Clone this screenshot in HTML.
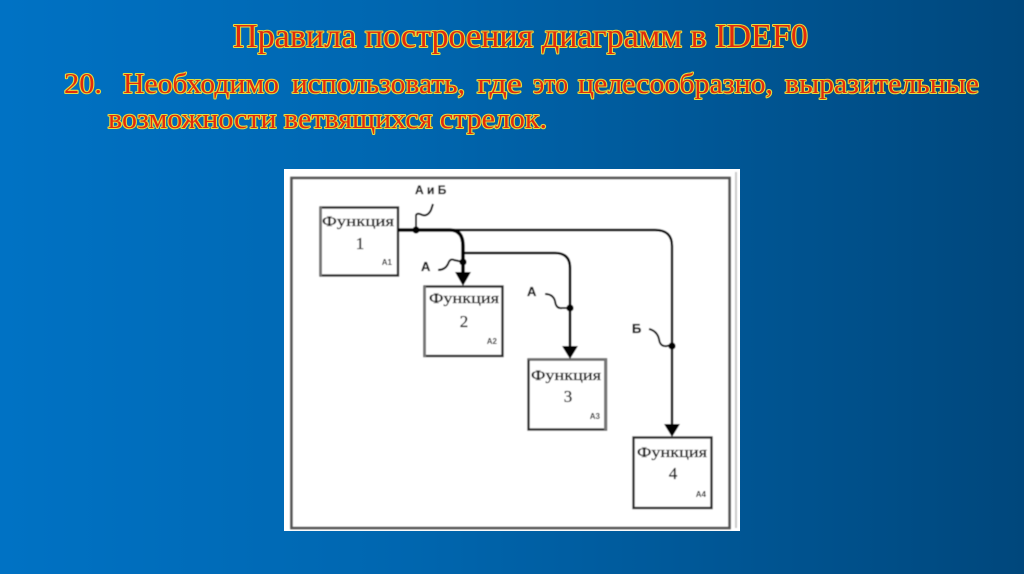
<!DOCTYPE html>
<html lang="ru">
<head>
<meta charset="utf-8">
<style>
html,body{margin:0;padding:0;width:1024px;height:574px;overflow:hidden;background:#0063ab}
svg{display:block}
.h{font-family:"Liberation Serif",serif;fill:#e22c08;stroke:#e4de3c;stroke-width:2.1px;paint-order:stroke fill;stroke-linejoin:round}
.d{font-family:"Liberation Serif",serif;fill:#1c1c1c;stroke:#1c1c1c;stroke-width:.35px;font-size:15px;text-anchor:middle}
.s{font-family:"Liberation Sans",sans-serif;fill:#222;font-size:8px;font-weight:bold;text-anchor:end}
.l{font-family:"Liberation Sans",sans-serif;fill:#1c1c1c;stroke:#1c1c1c;stroke-width:.3px;font-size:13px;font-weight:bold}
</style>
</head>
<body>
<svg width="1024" height="574" viewBox="0 0 1024 574" xmlns="http://www.w3.org/2000/svg">
<defs>
<linearGradient id="bg" x1="0" y1="0" x2="1" y2="0">
<stop offset="0" stop-color="#0072c4"/>
<stop offset=".4" stop-color="#0066af"/>
<stop offset="1" stop-color="#00477c"/>
</linearGradient>
<filter id="b" x="-5%" y="-5%" width="110%" height="110%"><feGaussianBlur stdDeviation=".5"/></filter>
<filter id="t" x="-2%" y="-10%" width="104%" height="120%"><feGaussianBlur stdDeviation=".25"/></filter>
</defs>
<rect width="1024" height="574" fill="url(#bg)"/>

<g filter="url(#t)">
<text class="h" x="233" y="47" font-size="33.5" textLength="575" lengthAdjust="spacingAndGlyphs">Правила построения диаграмм в IDEF0</text>
<text class="h" x="64" y="93" textLength="38" lengthAdjust="spacingAndGlyphs" font-size="28.5">20.</text>
<text class="h" x="123" y="93" textLength="156" lengthAdjust="spacingAndGlyphs" font-size="28.5">Необходимо</text>
<text class="h" x="292" y="93" textLength="173" lengthAdjust="spacingAndGlyphs" font-size="28.5">использовать,</text>
<text class="h" x="477" y="93" textLength="45" lengthAdjust="spacingAndGlyphs" font-size="28.5">где</text>
<text class="h" x="533" y="93" textLength="35" lengthAdjust="spacingAndGlyphs" font-size="28.5">это</text>
<text class="h" x="578" y="93" textLength="195" lengthAdjust="spacingAndGlyphs" font-size="28.5">целесообразно,</text>
<text class="h" x="785" y="93" textLength="194" lengthAdjust="spacingAndGlyphs" font-size="28.5">выразительные</text>
<text class="h" x="108" y="128" font-size="28.5" textLength="439" lengthAdjust="spacingAndGlyphs">возможности ветвящихся стрелок.</text>
</g>

<rect x="284" y="169" width="456" height="362" fill="#fff"/>
<g filter="url(#b)">
<rect x="291.5" y="178" width="438" height="350" fill="#fff" stroke="#555" stroke-width="2.6"/>
<rect x="735" y="172" width="2" height="356" fill="#ccc"/>

<g fill="#fff" stroke="#2a2a2a" stroke-width="2.4">
<rect x="320.5" y="207.5" width="77.5" height="68"/>
<rect x="424.5" y="286.5" width="78" height="69.5"/>
<rect x="528.5" y="359.5" width="77.5" height="70"/>
<rect x="633.5" y="437.5" width="78" height="70.5"/>
</g>
<g fill="#777">
<rect x="319" y="207" width="3" height="69"/>
<rect x="423" y="286" width="3" height="71"/>
<rect x="604" y="358" width="3" height="72"/>
<rect x="528" y="358" width="78" height="2"/>
</g>

<g fill="none" stroke="#000">
<path d="M398 230H450Q463 230 463 246V272" stroke-width="3.6"/>
<path d="M450 230H655Q672 230 672 246V426" stroke-width="2.4"/>
<path d="M463 253H555Q570 253 570 268V348" stroke-width="2.6"/>
<path d="M416 230V216Q416 213 420 214Q427 218 431 210L433 204" stroke-width="2"/>
<path d="M438 270Q445 270 448 264Q450 258 454 260L463 262" stroke-width="2"/>
<path d="M545 294Q553 294 555 301Q556 309 562 308L570 308" stroke-width="2"/>
<path d="M649 329Q657 331 659 339Q660 347 667 346L672 345" stroke-width="2"/>
</g>

<g fill="#000">
<circle cx="416" cy="230" r="3.6"/>
<circle cx="463" cy="262" r="3.6"/>
<circle cx="570" cy="308" r="3.6"/>
<circle cx="672" cy="346" r="3.6"/>
<path d="M455 272H471L463 286Z"/>
<path d="M562 346H578L570 359Z"/>
<path d="M664 424H680L672 437Z"/>
</g>

<g>
<text class="d" x="358" y="226" textLength="72" lengthAdjust="spacingAndGlyphs">Функция</text>
<text class="d" x="360" y="249" style="font-size:17px">1</text>
<text class="s" x="392" y="265">А1</text>
<text class="d" x="464" y="303" textLength="70" lengthAdjust="spacingAndGlyphs">Функция</text>
<text class="d" x="464" y="327" style="font-size:17px">2</text>
<text class="s" x="497" y="344">А2</text>
<text class="d" x="566" y="380" textLength="70" lengthAdjust="spacingAndGlyphs">Функция</text>
<text class="d" x="568" y="402" style="font-size:17px">3</text>
<text class="s" x="600" y="419">А3</text>
<text class="d" x="672" y="457" textLength="70" lengthAdjust="spacingAndGlyphs">Функция</text>
<text class="d" x="673" y="479" style="font-size:17px">4</text>
<text class="s" x="706" y="497">А4</text>
</g>

<text class="l" x="415" y="194" style="font-size:12px">А и Б</text>
<text class="l" x="421" y="271">А</text>
<text class="l" x="527" y="296">А</text>
<text class="l" x="632" y="333">Б</text>
</g>
</svg>
</body>
</html>
